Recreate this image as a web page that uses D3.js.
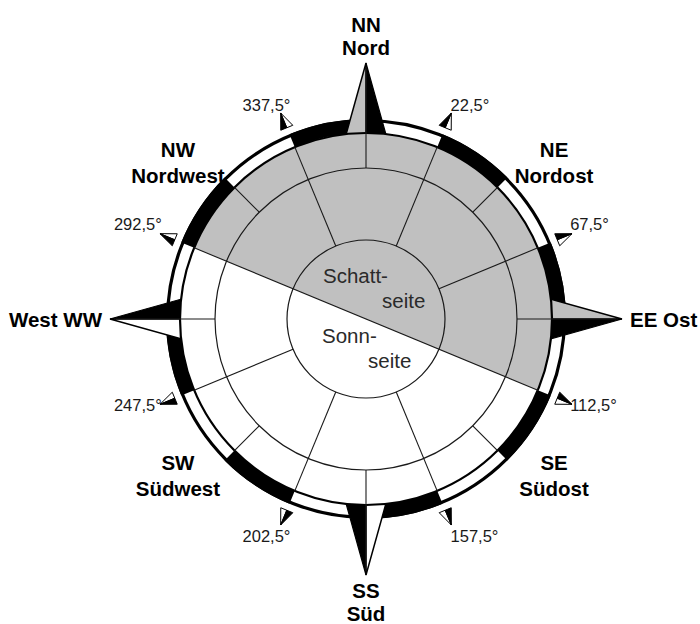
<!DOCTYPE html>
<html>
<head>
<meta charset="utf-8">
<script src="https://cdnjs.cloudflare.com/ajax/libs/d3/7.8.5/d3.min.js"></script>
<style>
  body { margin: 0; background: #fff; }
  text { font-family: "Liberation Sans", Arial, sans-serif; }
</style>
</head>
<body>
<div id="chart"></div>
<script>
/* -----------------------
    DATA
 -------------------------- */

//-- COMPASS DIRECTIONS (degrees, clockwise from north)
var directionAngles = [0, 45, 90, 135, 180, 225, 270, 315];
var directionLabels = [
  ['NN', 'Nord'], ['NE', 'Nordost'], ['EE Ost'], ['SE', 'Südost'],
  ['SS', 'Süd'], ['SW', 'Südwest'], ['West WW'], ['NW', 'Nordwest']
];
var cardinalAngles = [0, 90, 180, 270];

//-- SECTOR BORDERS
var sectorAngles = [22.5, 67.5, 112.5, 157.5, 202.5, 247.5, 292.5, 337.5];

//-- BLACK PARTS OF THE OUTER RING
var blackSegments = [
  [22.5, 45], [67.5, 90], [112.5, 135], [157.5, 180],
  [202.5, 225], [247.5, 270], [292.5, 315], [337.5, 360]
];

//-- SHADOW SIDE: from 292.5 clockwise to 112.5
var shadowHalf = [292.5, 472.5];
var sideLabels = [['Schatt-', 'seite'], ['Sonn-', 'seite']];

/* -----------------------
    SETUP
 -------------------------- */
var width = 700,
  height = 624,
  cx = 366,
  cy = 319;

var innerR = 79,
  midR = 151,
  discR = 186,
  ringR = 200,
  tipR = 256,
  starInnerR = 79;

var grey = '#c0c0c0',
  ink = '#1a1a1a';

var svg = d3.select('#chart').append('svg')
  .attr('width', width)
  .attr('height', height);

var g = svg.append('g')
  .attr('transform', 'translate(' + cx + ',' + cy + ')');

//-- DEGREES -> RADIANS
var angle = d3.scaleLinear().domain([0, 360]).range([0, 2 * Math.PI]);
var arc = d3.arc();
var line = d3.line();

function pt(deg, r) {
  return d3.pointRadial(angle(deg), r);
}

function inShadow(deg) {
  var d = ((deg - shadowHalf[0]) % 360 + 360) % 360;
  return d < 180;
}

/* -----------------------
    OUTER RING
 -------------------------- */
g.selectAll('.seg')
  .data(blackSegments)
  .join('path')
  .attr('class', 'seg')
  .attr('d', function(d) {
    return arc({ innerRadius: discR, outerRadius: ringR, startAngle: angle(d[0]), endAngle: angle(d[1]) });
  })
  .attr('fill', '#000');

g.append('circle')
  .attr('r', ringR - 1.6)
  .attr('fill', 'none')
  .attr('stroke', '#000')
  .attr('stroke-width', 3.2);

/* -----------------------
    STAR POINTS
 -------------------------- */
cardinalAngles.forEach(function(a) {
  var o = [0, 0],
    tip = pt(a, tipR);
  //--- clockwise half is black
  g.append('path')
    .attr('d', line([o, tip, pt(a + 45, starInnerR)]) + 'Z')
    .attr('fill', '#000')
    .attr('stroke', '#000')
    .attr('stroke-width', 1.2);
  //--- other half light
  g.append('path')
    .attr('d', line([o, tip, pt(a - 45, starInnerR)]) + 'Z')
    .attr('fill', inShadow(a) ? grey : '#fff')
    .attr('stroke', '#000')
    .attr('stroke-width', 1.5);
});

/* -----------------------
    DISC
 -------------------------- */
g.append('circle')
  .attr('r', discR)
  .attr('fill', '#fff');

g.append('path')
  .attr('d', arc({ innerRadius: 0, outerRadius: discR, startAngle: angle(shadowHalf[0]), endAngle: angle(shadowHalf[1]) }))
  .attr('fill', grey);

g.append('circle')
  .attr('r', discR)
  .attr('fill', 'none')
  .attr('stroke', '#000')
  .attr('stroke-width', 2.2);

[midR, innerR].forEach(function(r) {
  g.append('circle')
    .attr('r', r)
    .attr('fill', 'none')
    .attr('stroke', ink)
    .attr('stroke-width', 1.2);
});

/* -----------------------
    GRID LINES
 -------------------------- */
var segs = [];
//--- shadow border
segs.push([pt(shadowHalf[0], discR), pt(shadowHalf[0] + 180, discR)]);
//--- sector borders
sectorAngles.forEach(function(a) {
  if (a % 180 !== shadowHalf[0] % 180) segs.push([pt(a, innerR), pt(a, discR)]);
});
//--- diagonals
directionAngles.forEach(function(a) {
  if (a % 90 !== 0) segs.push([pt(a, midR), pt(a, discR)]);
});
//--- cardinal axes through the star points
cardinalAngles.forEach(function(a) {
  segs.push([pt(a, midR), pt(a, tipR - 4)]);
});

g.selectAll('.grid')
  .data(segs)
  .join('path')
  .attr('class', 'grid')
  .attr('d', function(d) { return line(d); })
  .attr('stroke', ink)
  .attr('stroke-width', 1.1);

/* -----------------------
    DEGREE MARKERS
 -------------------------- */
sectorAngles.forEach(function(a) {
  var tip = pt(a, 223),
    base = pt(a, 207),
    pl = pt(a - 90, 6.5),
    left = [base[0] + pl[0], base[1] + pl[1]],
    right = [base[0] - pl[0], base[1] - pl[1]];
  g.append('path')
    .attr('d', line([tip, base, right]) + 'Z')
    .attr('fill', '#fff')
    .attr('stroke', '#000')
    .attr('stroke-width', 1);
  g.append('path')
    .attr('d', line([tip, base, left]) + 'Z')
    .attr('fill', '#000')
    .attr('stroke', '#000')
    .attr('stroke-width', 1);

  //--- label next to the marker
  var c = Math.cos(angle(a)),
    s = Math.sin(angle(a)),
    lx = pt(a, 221),
    dx = a < 180 ? 0 : (Math.abs(s) < 0.5 ? 9 : 0);
  g.append('text')
    .attr('x', lx[0] + dx)
    .attr('y', lx[1] + (c > 0 ? -4 : Math.max(4, -c * 20)))
    .attr('text-anchor', a < 180 ? 'start' : 'end')
    .attr('font-size', '16.5px')
    .attr('fill', ink)
    .text(String(a).replace('.', ',') + '°');
});

/* -----------------------
    DIRECTION LABELS
 -------------------------- */
directionAngles.forEach(function(a, i) {
  var lines = directionLabels[i],
    s = Math.sin(angle(a)),
    c = Math.cos(angle(a)),
    x, y, anchor = 'middle',
    lh = 25;

  if (a % 180 === 0) {
    //--- north / south
    x = 0;
    y = -c * 283;
    lh = 23;
  } else if (a % 90 === 0) {
    //--- east / west
    x = s * 264;
    y = 0;
    anchor = s > 0 ? 'start' : 'end';
  } else {
    //--- diagonals
    x = s * 266;
    y = -c * 221;
    lh = 26;
  }

  var t = g.append('text')
    .attr('text-anchor', anchor)
    .attr('font-size', '20.5px')
    .attr('font-weight', 'bold')
    .attr('fill', '#000');

  lines.forEach(function(l, j) {
    t.append('tspan')
      .attr('x', x)
      .attr('y', y - (lines.length - 1) * lh / 2 + 7.5 + j * lh)
      .text(l);
  });
});

/* -----------------------
    SUN / SHADOW LABELS
 -------------------------- */
var sideOffsets = [
  [[-43, -36], [16, -11]],
  [[-44, 24], [2, 49]]
];
sideLabels.forEach(function(lines, i) {
  lines.forEach(function(l, j) {
    g.append('text')
      .attr('x', sideOffsets[i][j][0])
      .attr('y', sideOffsets[i][j][1])
      .attr('font-size', '20.5px')
      .attr('fill', '#2a2a2a')
      .text(l);
  });
});
</script>
</body>
</html>
